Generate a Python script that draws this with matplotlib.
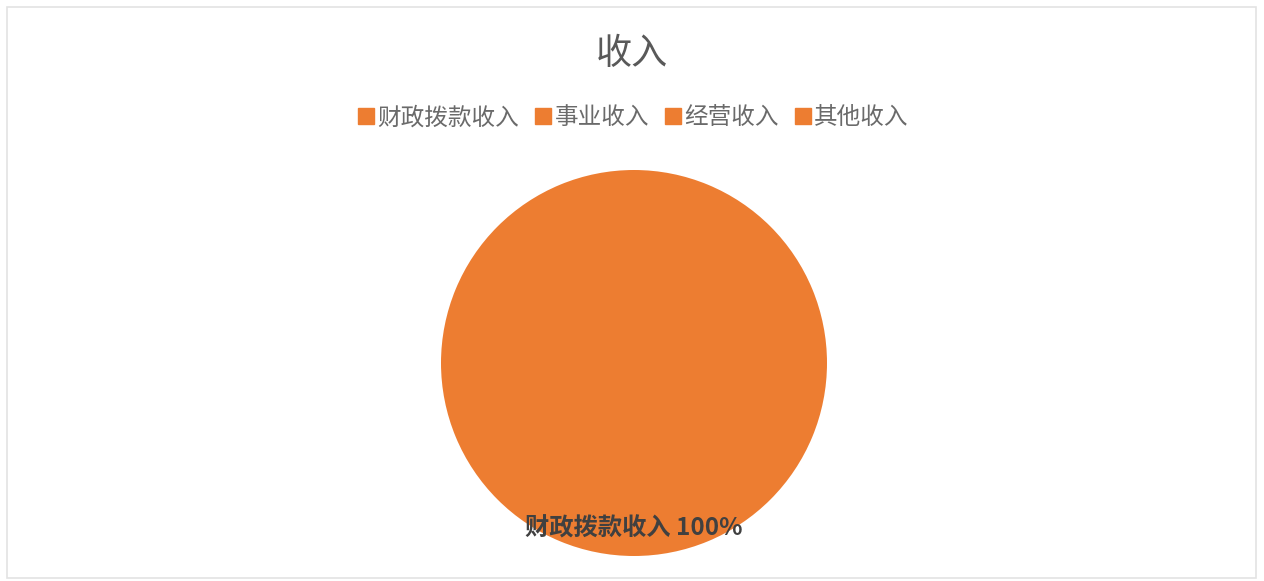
import numpy as np
import matplotlib
matplotlib.use('Agg')
import matplotlib.pyplot as plt
from matplotlib.patches import Rectangle

plt.rcParams['font.family'] = ['Noto Sans CJK SC', 'DejaVu Sans']

# data
title = '收入'
categories = ['财政拨款收入', '事业收入', '经营收入', '其他收入']
values = [100, 0, 0, 0]
orange = '#ED7D31'

fig = plt.figure(figsize=(12.64, 5.81), dpi=100)
fig.patch.set_facecolor('white')

# light chart-area border
fig.patches.append(Rectangle((7/1264, 3/581), 1249/1264, 571/581, transform=fig.transFigure,
                             fill=False, edgecolor='#E3E3E3', linewidth=1.2))

ax = fig.add_axes([(634-193)/1264, (581-363-193)/581, 386/1264, 386/581])
wedges, _ = ax.pie(values, colors=[orange]*len(values), startangle=90, counterclock=False,
                   radius=1, wedgeprops=dict(linewidth=0))
ax.set_xlim(-1, 1)
ax.set_ylim(-1, 1)
ax.set_aspect('equal')
ax.axis('off')

# data label for non-zero slice
total = float(sum(values))
for w, cat, v in zip(wedges, categories, values):
    if v == 0:
        continue
    mid = np.deg2rad((w.theta1 + w.theta2) / 2)
    r = 0.85
    ax.text(r*np.cos(mid), r*np.sin(mid) - 0.01, '%s %d%%' % (cat, round(v/total*100)),
            ha='center', va='center', fontsize=17.5, color='#404040', fontweight='bold')

fig.text(0.5, 1-54/581, title, ha='center', va='center', fontsize=26, color='#595959')

handles = [plt.Line2D([], [], marker='s', linestyle='', markersize=11, color=orange) for _ in categories]
fig.legend(handles, categories, loc='center', bbox_to_anchor=(0.5, 1-118/581), ncol=4,
           frameon=False, fontsize=17, labelcolor='#6a6a6a', handletextpad=0.05,
           columnspacing=0.55, handlelength=0.9)

fig.savefig('out.png', dpi=100, facecolor='white')
